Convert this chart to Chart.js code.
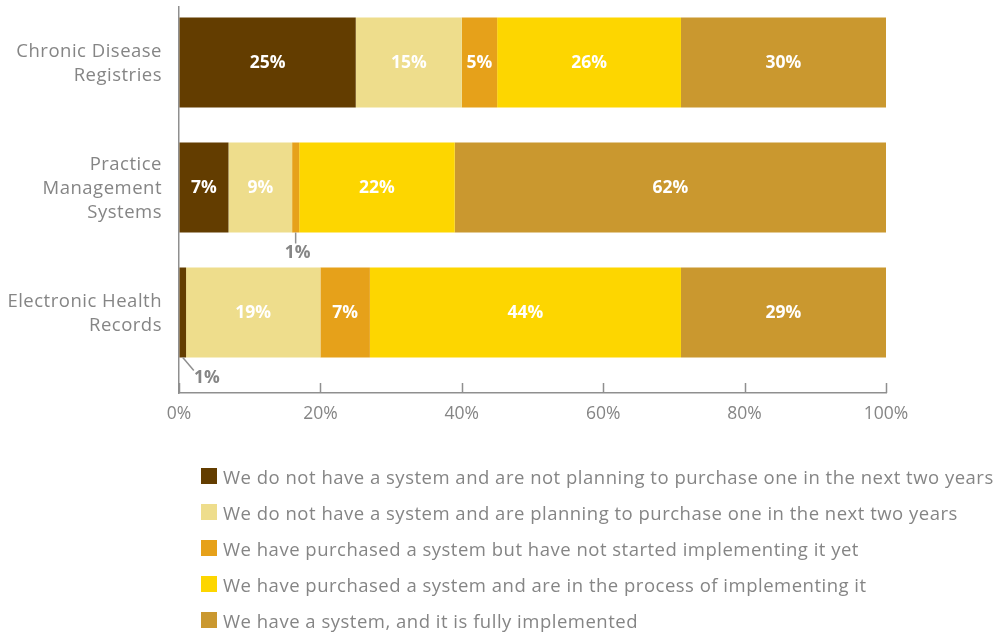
<!DOCTYPE html>
<html>
<head>
<meta charset="utf-8">
<script src="https://cdn.jsdelivr.net/npm/chart.js@4/dist/chart.umd.min.js"></script>
<style>
  html, body { margin: 0; padding: 0; background: #fff; }
  #wrap { position: relative; width: 999px; height: 637px; }
  #legend { position: absolute; left: 201px; top: 458px; margin: 0; padding: 0; list-style: none;
            font-family: "Open Sans", sans-serif; font-size: 18.5px; letter-spacing: 0.5px; color: #858585; }
  #legend li { display: flex; align-items: center; height: 36px; white-space: nowrap; }
  #legend .sw { width: 16px; height: 16px; margin-right: 6px; flex: none; }
</style>
</head>
<body>
<div id="wrap">
  <canvas id="chart" width="999" height="637"></canvas>
  <ul id="legend"></ul>
</div>
<script>
// Categories (top to bottom) and survey responses, in percent
const categories = [
  ["Chronic Disease", "Registries"],
  ["Practice", "Management", "Systems"],
  ["Electronic Health", "Records"]
];
const seriesNames = [
  "We do not have a system and are not planning to purchase one in the next two years",
  "We do not have a system and are planning to purchase one in the next two years",
  "We have purchased a system but have not started implementing it yet",
  "We have purchased a system and are in the process of implementing it",
  "We have a system, and it is fully implemented"
];
const notPlanning         = [25, 7, 1];
const planning            = [15, 9, 19];
const purchasedNotStarted = [5, 1, 7];
const implementing        = [26, 22, 44];
const fullyImplemented    = [30, 62, 29];
const xTicks = [0, 20, 40, 60, 80, 100];

const seriesValues = [notPlanning, planning, purchasedNotStarted, implementing, fullyImplemented];
const seriesColors = ["#633d00", "#eedd8c", "#e6a11a", "#fdd600", "#ca982f"];

const FONT = "'Open Sans', sans-serif";
const GRAY = "#858585";
const AXIS = "#8f8f8f";

const datasets = seriesValues.map((vals, i) => ({
  label: seriesNames[i],
  data: vals.map((v, j) => ({ x: v, y: j })),
  backgroundColor: seriesColors[i],
  borderWidth: 0,
  barPercentage: 0.72,
  categoryPercentage: 1
}));

// Category names, right-aligned beside the axis
const categoryLabels = {
  id: "categoryLabels",
  afterDraw(chart) {
    const { ctx, chartArea, scales } = chart;
    ctx.save();
    ctx.font = "18.5px " + FONT;
    ctx.letterSpacing = "0.5px";
    ctx.fillStyle = GRAY;
    ctx.textAlign = "right";
    ctx.textBaseline = "middle";
    const lh = 24;
    categories.forEach((lines, i) => {
      const cy = scales.y.getPixelForValue(i) + 1;
      const y0 = cy - (lines.length - 1) * lh / 2;
      lines.forEach((t, k) => ctx.fillText(t, chartArea.left - 17, y0 + k * lh));
    });
    ctx.restore();
  }
};

// Value labels: white inside wide segments, gray with a leader line below narrow ones
const valueLabels = {
  id: "valueLabels",
  afterDatasetsDraw(chart) {
    const { ctx, chartArea } = chart;
    ctx.save();
    chart.data.datasets.forEach((ds, di) => {
      const meta = chart.getDatasetMeta(di);
      meta.data.forEach((bar, j) => {
        const v = ds.data[j].x;
        const p = bar.getProps(["x", "y", "base", "height"], true);
        const x0 = Math.max(Math.min(p.base, p.x), chartArea.left);
        const x1 = Math.min(Math.max(p.base, p.x), chartArea.right);
        const cx = (x0 + x1) / 2;
        const text = v + "%";
        ctx.font = "bold 17.5px " + FONT;
        ctx.textAlign = "center";
        ctx.textBaseline = "middle";
        if (v >= 3) {
          ctx.fillStyle = "#ffffff";
          ctx.fillText(text, cx, p.y + 1);
        } else {
          const bottom = p.y + p.height / 2;
          const nearAxis = cx - chartArea.left < 10;
          const lx = nearAxis ? cx + 24 : cx + 2;
          const ly = bottom + 21;
          ctx.strokeStyle = AXIS;
          ctx.lineWidth = 1.5;
          ctx.beginPath();
          ctx.moveTo(cx, bottom);
          if (nearAxis) ctx.lineTo(lx - 13, bottom + 13);
          else ctx.lineTo(cx, bottom + 11);
          ctx.stroke();
          ctx.fillStyle = GRAY;
          ctx.fillText(text, lx, ly);
        }
      });
    });
    ctx.restore();
  }
};

// Short tick marks rising from the value axis into the plot
const innerTicks = {
  id: "innerTicks",
  afterDraw(chart) {
    const { ctx, chartArea, scales } = chart;
    ctx.save();
    ctx.strokeStyle = AXIS;
    ctx.lineWidth = 1.5;
    xTicks.forEach(t => {
      const px = Math.round(scales.x.getPixelForValue(t)) + 0.5;
      ctx.beginPath();
      ctx.moveTo(px, chartArea.bottom);
      ctx.lineTo(px, chartArea.bottom - 10);
      ctx.stroke();
    });
    ctx.restore();
  }
};

new Chart(document.getElementById("chart"), {
  type: "bar",
  data: { datasets },
  options: {
    indexAxis: "y",
    responsive: false,
    devicePixelRatio: 1,
    animation: false,
    layout: { padding: { top: 7, right: 113, left: 0, bottom: 0 } },
    plugins: { legend: { display: false }, tooltip: { enabled: false } },
    scales: {
      x: {
        type: "linear",
        stacked: true,
        min: 0,
        max: 100,
        afterBuildTicks(scale) { scale.ticks = xTicks.map(v => ({ value: v })); },
        afterFit(scale) { scale.height = 244; },
        grid: { drawOnChartArea: false, drawTicks: false },
        border: { display: true, color: AXIS, width: 1.5 },
        ticks: {
          padding: 11,
          color: GRAY,
          font: { family: FONT, size: 17.5 },
          callback: v => v + "%"
        }
      },
      y: {
        type: "linear",
        stacked: true,
        reverse: true,
        offset: false,
        min: -0.444,
        max: 2.644,
        afterBuildTicks(scale) { scale.ticks = categories.map((c, i) => ({ value: i })); },
        afterFit(scale) { scale.width = 179; },
        grid: { drawOnChartArea: false, drawTicks: false, offset: false },
        border: { display: true, color: AXIS, width: 1.5 },
        ticks: { display: false }
      }
    }
  },
  plugins: [valueLabels, innerTicks, categoryLabels]
});

// Legend list built from the series
const legend = document.getElementById("legend");
seriesNames.forEach((name, i) => {
  const li = document.createElement("li");
  const sw = document.createElement("span");
  sw.className = "sw";
  sw.style.background = seriesColors[i];
  li.appendChild(sw);
  li.appendChild(document.createTextNode(name));
  legend.appendChild(li);
});
</script>
</body>
</html>
